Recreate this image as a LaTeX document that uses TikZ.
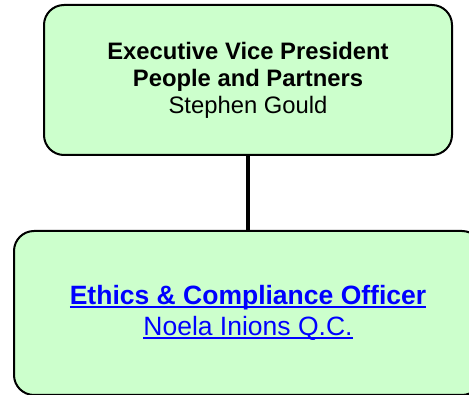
\documentclass[tikz,border=0pt]{standalone}
\usepackage{fontspec}
\setmainfont{Liberation Sans}
\definecolor{boxfill}{HTML}{CCFFCC}
\definecolor{linkblue}{HTML}{0000FF}
\newcommand\myul[3]{\setbox0\hbox{#3}\rlap{\rule[-#1]{\wd0}{#2}}\box0}
\tikzset{
  orgbox/.style={draw=black, line width=2pt, fill=boxfill, rounded corners=20pt, align=center, inner sep=0pt},
  orgline/.style={draw=black, line width=4pt}
}
\begin{document}
\begin{tikzpicture}[x=1pt,y=-1pt]
\useasboundingbox (0,0) rectangle (469,395);
\node[orgbox, minimum width=408pt, minimum height=150pt,
      font=\fontsize{23.8}{27}\selectfont] (top) at (248,80)
  {\textbf{Executive Vice President}\\
   \textbf{People and Partners}\\
   Stephen Gould};
\node[orgbox, minimum width=468pt, minimum height=164pt,
      font=\fontsize{26.5}{31}\selectfont, text=linkblue] (bot) at (248,313)
  {\myul{3.5pt}{2.3pt}{\textbf{Ethics \& Compliance Officer}}\\[-0pt]
   \myul{3pt}{1.8pt}{Noela Inions Q.C.}};
\draw[orgline] (top.south) -- (bot.north);
\end{tikzpicture}
\end{document}
